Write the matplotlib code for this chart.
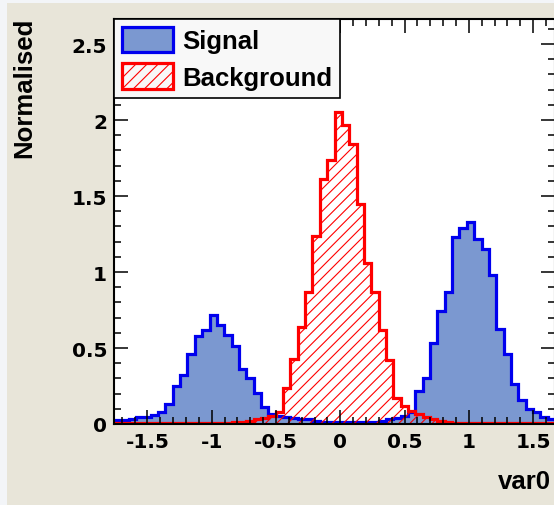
import numpy as np
import matplotlib
matplotlib.use("Agg")
import matplotlib.pyplot as plt
from matplotlib.patches import Rectangle
from matplotlib.ticker import MultipleLocator

plt.rcParams['font.family'] = ['Liberation Sans', 'DejaVu Sans']
plt.rcParams['font.weight'] = 'bold'
plt.rcParams['hatch.linewidth'] = 0.8

# histogram range of var0 (60 bins)
XMIN, XMAX, NBINS = -1.76, 1.67, 60

# normalised bin contents
signal = [0.025, 0.025, 0.035, 0.045, 0.045, 0.06, 0.077, 0.13, 0.25, 0.32,
          0.46, 0.58, 0.62, 0.72, 0.65, 0.585, 0.51, 0.365, 0.30, 0.205,
          0.11, 0.063, 0.05, 0.045, 0.04, 0.03, 0.03, 0.02, 0.015, 0.01,
          0.01, 0.01, 0.01, 0.01, 0.01, 0.015, 0.02, 0.03, 0.04, 0.05,
          0.08, 0.22, 0.30, 0.53, 0.745, 0.87, 1.23, 1.29, 1.33, 1.22,
          1.15, 0.98, 0.625, 0.46, 0.26, 0.16, 0.10, 0.077, 0.044, 0.03]
background = [0.005, 0.005, 0.005, 0.005, 0.005, 0.005, 0.005, 0.005, 0.005, 0.005,
              0.005, 0.005, 0.005, 0.005, 0.005, 0.005, 0.01, 0.01, 0.02, 0.03,
              0.04, 0.055, 0.08, 0.24, 0.43, 0.64, 0.87, 1.24, 1.61, 1.74,
              2.05, 1.97, 1.84, 1.45, 1.06, 0.87, 0.62, 0.42, 0.17, 0.12,
              0.085, 0.065, 0.045, 0.03, 0.02, 0.01, 0.005, 0.005, 0.005, 0.005,
              0.005, 0.005, 0.005, 0.005, 0.005, 0.005, 0.005, 0.005, 0.005, 0.005]
edges = np.linspace(XMIN, XMAX, NBINS + 1)

W, H = 554, 506
fig = plt.figure(figsize=(W / 100, H / 100), dpi=100, facecolor='#f3f5f8')
# beige canvas of the ROOT pad
fig.add_artist(Rectangle((7 / W, 0), 1, 1 - 4 / H, transform=fig.transFigure,
                         facecolor='#e8e5d9', edgecolor='none', zorder=-10))

ax = fig.add_axes([114 / W, 1 - 425 / H, 441 / W, 405 / H])
ax.set_facecolor('white')

ax.stairs(signal, edges, baseline=0, fill=True, facecolor='#7b98d0',
          edgecolor='#0000ee', linewidth=2.3, label='Signal')
ax.stairs(background, edges, baseline=0, fill=True, facecolor='none',
          edgecolor='#ff0000', hatch='///', linewidth=2.3, label='Background')

ax.set_xlim(XMIN, XMAX)
ax.set_ylim(0, 2.665)
ax.xaxis.set_major_locator(MultipleLocator(0.5))
ax.xaxis.set_minor_locator(MultipleLocator(0.1))
ax.yaxis.set_major_locator(MultipleLocator(0.5))
ax.yaxis.set_minor_locator(MultipleLocator(0.1))
ax.xaxis.set_major_formatter(lambda v, p: '%g' % round(v, 2))
ax.yaxis.set_major_formatter(lambda v, p: '%g' % round(v, 2))

ax.tick_params(which='both', direction='in', top=True, right=True, width=1.1)
ax.tick_params(which='major', length=10)
ax.tick_params(which='minor', length=5)
ax.tick_params(axis='x', pad=6)
ax.tick_params(axis='y', pad=5)
for lab in ax.get_xticklabels() + ax.get_yticklabels():
    lab.set_family('DejaVu Sans')
    lab.set_fontsize(14.5)
    lab.set_fontweight('bold')
for s in ax.spines.values():
    s.set_linewidth(1.5)
    s.set_zorder(5)

ax.set_ylabel('Normalised', fontsize=18.5, fontweight='bold', loc='top')
ax.yaxis.set_label_coords(-0.176, 1.006)
ax.set_xlabel('var0', fontsize=18.5, fontweight='bold', loc='right')
ax.xaxis.set_label_coords(0.990, -0.11)

leg = ax.legend(loc='upper left', bbox_to_anchor=(0, 1), borderaxespad=0,
                fontsize=18.5, fancybox=False, framealpha=1, borderpad=0.3,
                handlelength=2.0, handleheight=1.15, handletextpad=0.35,
                labelspacing=0.4)
leg.get_frame().set_facecolor('#f8f8f8')
leg.get_frame().set_edgecolor('black')
leg.get_frame().set_linewidth(1.2)
for t in leg.get_texts():
    t.set_fontweight('bold')

fig.savefig('out.png', dpi=100, facecolor=fig.get_facecolor())
